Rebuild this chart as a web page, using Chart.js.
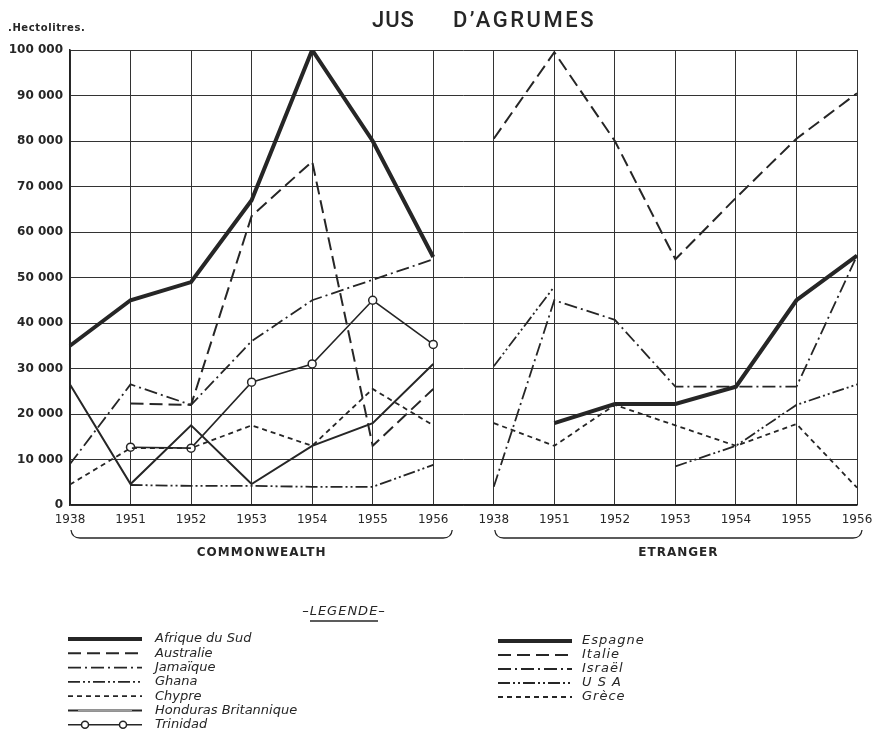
<!DOCTYPE html>
<html>
<head>
<meta charset="utf-8">
<script src="https://cdn.jsdelivr.net/npm/chart.js@4.4.1/dist/chart.umd.min.js"></script>
<style>
  html, body { margin: 0; padding: 0; background: #fff; }
  #wrap { width: 872px; height: 735px; position: relative; }
</style>
</head>
<body>
<div id="wrap"><canvas id="c" width="872" height="735"></canvas></div>
<script>
// ---- Data ----
const yearLabels = ['1938','1951','1952','1953','1954','1955','1956'];
const categories = yearLabels.concat(yearLabels);
const yTicks = [0,10000,20000,30000,40000,50000,60000,70000,80000,90000,100000];

// Commonwealth (hectolitres)
const afriqueDuSud = [35000, 45000, 49000, 67000, 100000, 80000, 54500];
const australie    = [null, 22300, 22000, 63500, 75500, 13000, 25500];
const jamaique     = [9000, 26500, 22000, 36000, 45000, 49500, 54000];
const ghana        = [null, 4400, 4200, 4200, 4000, 4000, 8800];
const chypre       = [4500, 12500, 12500, 17500, 13000, 25500, 17500];
const honduras     = [26500, 4600, 17500, 4600, 13000, 18000, 31000];
const trinidad     = [null, 12700, 12500, 27000, 31000, 45000, 35300];

// Etranger (hectolitres)
const espagne = [null, 18000, 22200, 22200, 26000, 45000, 54800];
const italie  = [80500, 99500, 80000, 54000, 67500, 80500, 90500];
const israel  = [4000, 45000, 40700, 26000, 26000, 26000, 54800];
const usa     = [30500, 48000, null, 8500, 13000, 22000, 26500];
const grece   = [18000, 13000, 22000, 17500, 13000, 17800, 3800];

const empty = [null, null, null, null, null, null, null];
const left = a => a.concat(empty);
const right = a => empty.concat(a);

const INK = '#262626';
function ds(label, data, width, dash, group, extra) {
  return Object.assign({
    label, data, group,
    borderColor: INK, backgroundColor: INK,
    borderWidth: width, borderDash: dash,
    pointRadius: 0, pointHoverRadius: 0,
    tension: 0, spanGaps: false, fill: false,
    borderCapStyle: 'butt', borderJoinStyle: 'miter'
  }, extra || {});
}

const DASH_LONG = [13, 6];
const DASH_DOT = [13, 4, 2, 4];
const DASH_DOT2 = [12, 3, 2, 3, 2, 3];
const DASH_SHORT = [5, 4];

const datasets = [
  ds('Afrique du Sud', left(afriqueDuSud), 4, [], 'L'),
  ds('Australie', left(australie), 2, DASH_LONG, 'L'),
  ds('Jamaïque', left(jamaique), 1.8, DASH_DOT, 'L'),
  ds('Ghana', left(ghana), 1.8, DASH_DOT2, 'L'),
  ds('Chypre', left(chypre), 1.8, DASH_SHORT, 'L'),
  ds('Honduras Britannique', left(honduras), 2, [], 'L'),
  ds('Trinidad', left(trinidad), 1.6, [], 'L', {
    pointRadius: 4, pointStyle: 'circle', pointBackgroundColor: '#fff',
    pointBorderColor: INK, pointBorderWidth: 1.5
  }),
  ds('Espagne', right(espagne), 4, [], 'R'),
  ds('Italie', right(italie), 2, DASH_LONG, 'R'),
  ds('Israël', right(israel), 1.8, DASH_DOT, 'R'),
  ds('USA', right(usa), 1.8, DASH_DOT2, 'R'),
  ds('Grèce', right(grece), 1.8, DASH_SHORT, 'R')
];

const legendLabels = { 'USA': 'U S A' };

const FONT = "'DejaVu Sans', sans-serif";

function spacing(ctx, v) { try { ctx.letterSpacing = v; } catch (e) {} }

const decor = {
  id: 'decor',
  afterDraw(chart) {
    const ctx = chart.ctx;
    const xs = chart.scales.x;
    ctx.save();
    ctx.fillStyle = INK;
    ctx.strokeStyle = INK;

    // Title
    ctx.font = "500 22px Roboto, 'DejaVu Sans', sans-serif";
    ctx.textBaseline = 'middle';
    ctx.textAlign = 'left';
    spacing(ctx, '1px');
    ctx.fillText('JUS', 372, 21);
    spacing(ctx, '2.5px');
    ctx.fillText('D\u2019AGRUMES', 453, 21);
    spacing(ctx, '0px');

    // Unit
    ctx.font = "bold 10px " + FONT;
    spacing(ctx, '0.6px');
    ctx.fillText('.Hectolitres.', 8, 28);
    spacing(ctx, '0px');

    // Brackets
    const p0 = xs.getPixelForValue(0), p6 = xs.getPixelForValue(6);
    const p7 = xs.getPixelForValue(7), p13 = xs.getPixelForValue(13);
    function bracket(x1, x2, label) {
      const yTop = 530, yLine = 538;
      ctx.lineWidth = 1.3;
      ctx.setLineDash([]);
      ctx.beginPath();
      ctx.moveTo(x1 + 1, yTop);
      ctx.quadraticCurveTo(x1 + 2, yLine, x1 + 10, yLine);
      ctx.lineTo(x2 - 10, yLine);
      ctx.quadraticCurveTo(x2 - 2, yLine, x2 - 1, yTop);
      ctx.stroke();
      ctx.font = "bold 12px " + FONT;
      ctx.textAlign = 'center';
      spacing(ctx, '1px');
      ctx.fillText(label, (x1 + x2) / 2, 553);
      spacing(ctx, '0px');
    }
    bracket(p0, p6 + 20, 'COMMONWEALTH');
    bracket(p7, p13 + 6, 'ETRANGER');

    // Legend title
    ctx.font = "italic 13px " + FONT;
    ctx.textAlign = 'center';
    spacing(ctx, '1px');
    ctx.fillText('\u2013LEGENDE\u2013', 344, 612);
    spacing(ctx, '0px');
    ctx.lineWidth = 1.5;
    ctx.beginPath();
    ctx.moveTo(310, 621); ctx.lineTo(378, 621);
    ctx.stroke();

    // Legend items
    const cols = {
      L: { x1: 68, x2: 142, tx: 155, y0: 639, dy: 14.3 },
      R: { x1: 498, x2: 572, tx: 582, y0: 641, dy: 14 }
    };
    const counters = { L: 0, R: 0 };
    ctx.font = "italic 13px " + FONT;
    ctx.textAlign = 'left';
    chart.data.datasets.forEach(d => {
      const c = cols[d.group];
      const y = c.y0 + counters[d.group] * c.dy;
      counters[d.group]++;
      ctx.setLineDash(d.borderDash || []);
      ctx.lineWidth = d.borderWidth;
      ctx.beginPath();
      ctx.moveTo(c.x1, y); ctx.lineTo(c.x2, y);
      ctx.stroke();
      ctx.setLineDash([]);
      if (d.pointRadius > 0) {
        [85, 123].forEach(px => {
          ctx.beginPath();
          ctx.arc(px, y, 3.5, 0, Math.PI * 2);
          ctx.fillStyle = '#fff'; ctx.fill();
          ctx.lineWidth = 1.5; ctx.stroke();
          ctx.fillStyle = INK;
        });
      }
      if (d.label === 'Honduras Britannique') {
        ctx.strokeStyle = '#bbb';
        ctx.lineWidth = 0.8;
        ctx.beginPath(); ctx.moveTo(c.x1 + 10, y); ctx.lineTo(c.x2 - 10, y); ctx.stroke();
        ctx.strokeStyle = INK;
      }
      spacing(ctx, d.group === 'R' ? '1px' : '0px');
      ctx.fillText(legendLabels[d.label] || d.label, c.tx, y);
      spacing(ctx, '0px');
    });
    ctx.restore();
  }
};

new Chart(document.getElementById('c'), {
  type: 'line',
  data: { labels: categories, datasets },
  options: {
    responsive: false,
    animation: false,
    events: [],
    layout: { padding: { top: 50, right: 15, left: 0, bottom: 0 } },
    plugins: { legend: { display: false }, title: { display: false }, tooltip: { enabled: false } },
    scales: {
      x: {
        type: 'category',
        offset: false,
        grid: { color: '#333', lineWidth: 1, drawTicks: false },
        border: { color: '#222', width: 1.5 },
        ticks: {
          color: INK, padding: 8, maxRotation: 0, autoSkip: false,
          font: { family: FONT, size: 12, weight: '400' }
        },
        afterFit(s) { s.height = 230; s.paddingLeft = 0; s.paddingRight = 0; }
      },
      y: {
        min: 0, max: 100000,
        afterBuildTicks(s) { s.ticks = yTicks.map(v => ({ value: v })); },
        grid: { color: '#333', lineWidth: 1, drawTicks: false },
        border: { color: '#222', width: 1.5 },
        ticks: {
          color: INK, padding: 7,
          font: { family: FONT, size: 12, weight: 'bold' },
          callback: v => v === 0 ? '0' : (v === 100000 ? '100 000' : (v / 1000) + ' 000')
        },
        afterFit(s) { s.width = 70; s.paddingTop = 0; s.paddingBottom = 0; }
      }
    }
  },
  plugins: [decor]
});
</script>
</body>
</html>
